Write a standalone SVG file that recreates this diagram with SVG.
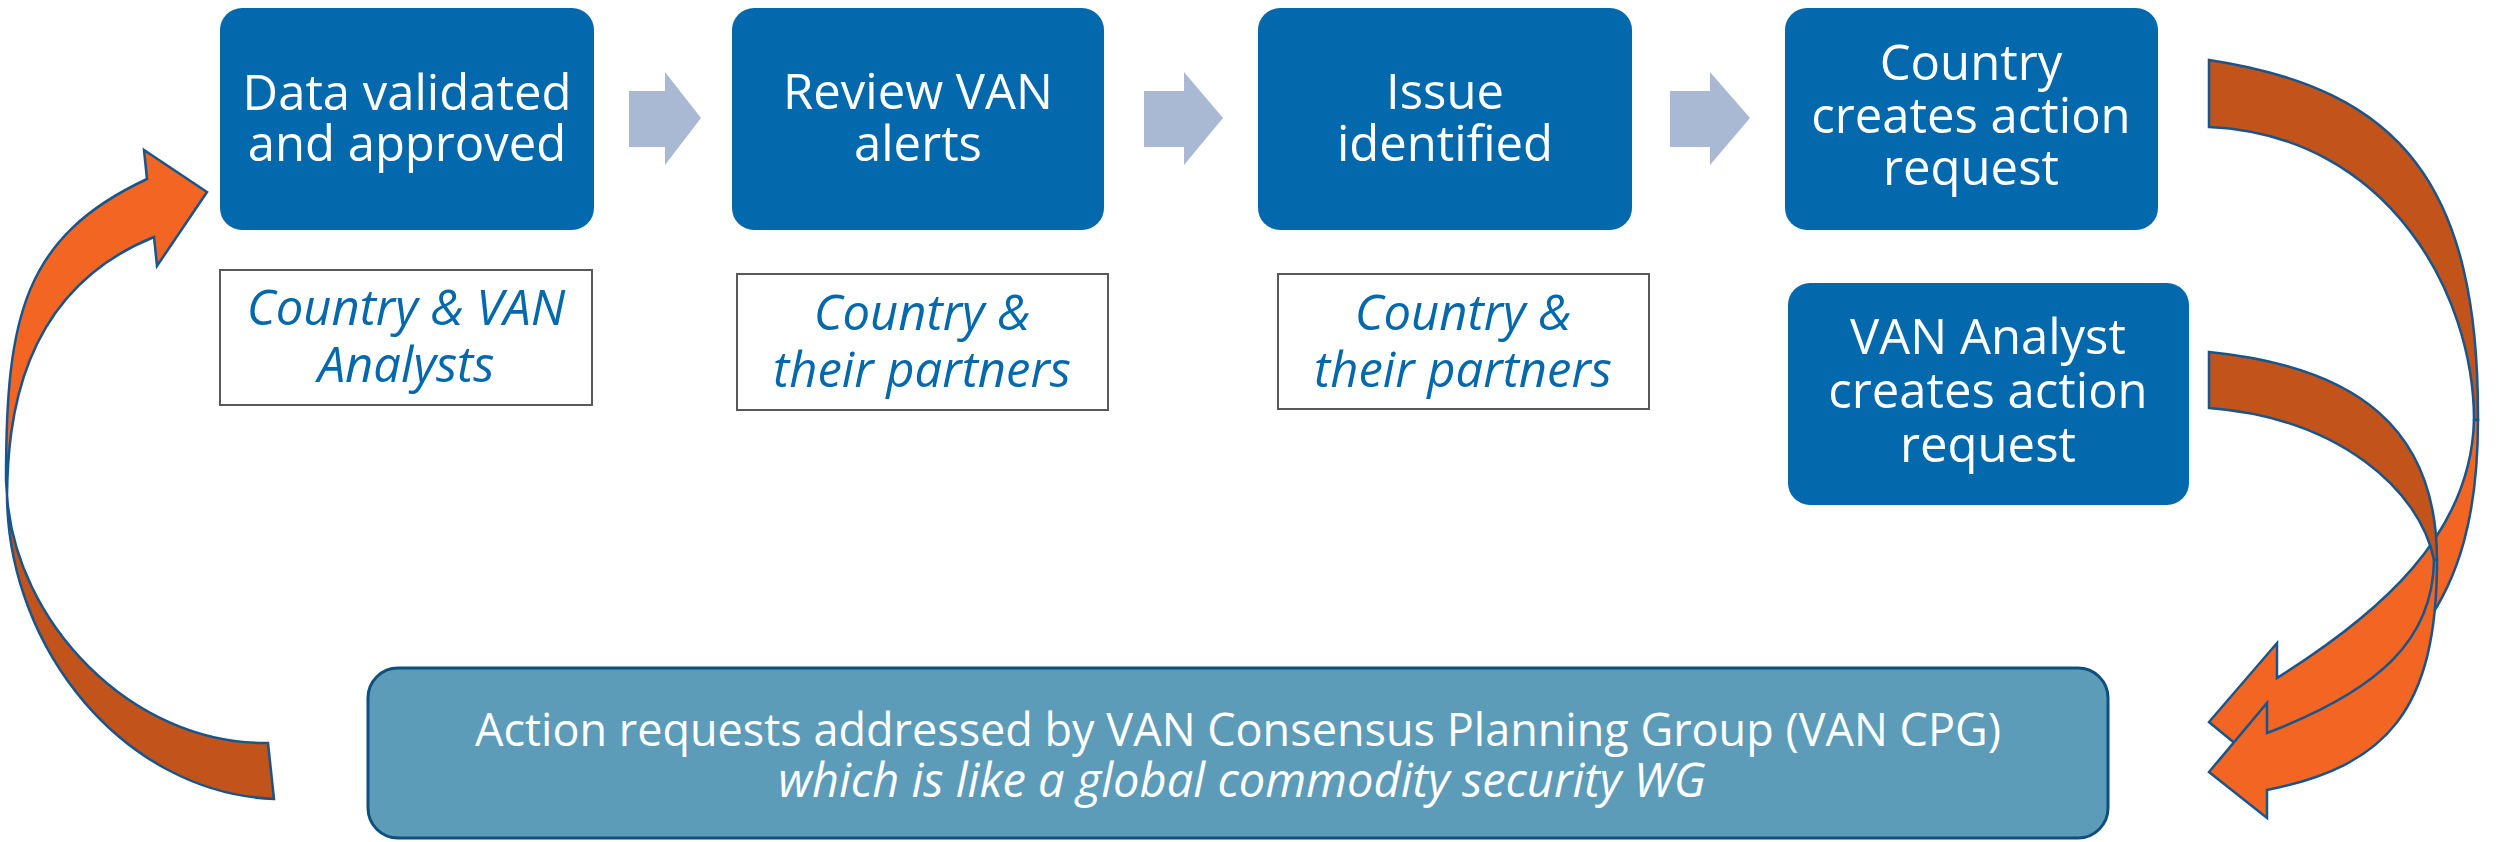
<svg xmlns="http://www.w3.org/2000/svg" width="2496" height="842" viewBox="0 0 2496 842">
<style>
.box{fill:#0468AC}
.t{font-family:"Open Sans","Noto Sans","DejaVu Sans",sans-serif;fill:#ffffff;font-size:49px;text-anchor:middle}
.sub{fill:#ffffff;stroke:#595959;stroke-width:2}
.st{font-family:"Open Sans","Noto Sans","DejaVu Sans",sans-serif;font-style:italic;fill:#0468AC;font-size:49px;text-anchor:middle}
.chev{fill:#A9B9D3}
.lt{fill:#F26522;stroke:#17558C;stroke-width:2.5;stroke-linejoin:miter}
.dk{fill:#C1531B;stroke:#17558C;stroke-width:2.5;stroke-linejoin:miter}
.bt{font-family:"Open Sans","Noto Sans","DejaVu Sans",sans-serif;fill:#ffffff;font-size:45px;text-anchor:middle}
.bi{font-family:"Open Sans","Noto Sans","DejaVu Sans",sans-serif;fill:#ffffff;font-size:47px;font-style:italic;text-anchor:middle}
</style>
<rect width="2496" height="842" fill="#ffffff"/>
<g id="connectors">
  <polygon class="chev" points="629,91 665,91 665,72 701,118 665,165 665,147 629,147"/>
  <polygon class="chev" points="1144,91 1184,91 1184,72 1223,118 1184,165 1184,147 1144,147"/>
  <polygon class="chev" points="1670,91 1710,91 1710,72 1750,118 1710,165 1710,147 1670,147"/>
  <g id="loop-left">
    <path class="dk" d="M7,495 C8,650 125,793 274,799 L268,743 C130,745 15,620 7,495 Z"/>
    <path class="lt" d="M147,179 L144,150 L207,192 L157,266 L154,237 C18,292 8,424 7,495 L6,480 C6,317 23,237 147,179 Z"/>
  </g>
  <g id="loop-right-upper">
    <path class="dk" d="M2209,60 C2401,89 2479,185 2478,420 L2474,420 C2474,295 2389,135 2209,127 Z"/>
    <path class="lt" d="M2478,420 C2478,612 2400,673 2277,740 L2277,778 L2209,722 L2277,643 L2277,678 C2379,614 2471,535 2474,420 Z"/>
  </g>
  <g id="loop-right-lower">
    <path class="dk" d="M2209,352 C2359,367 2437,430 2437,560 L2434,560 C2420,490 2339,418 2209,408 Z"/>
    <path class="lt" d="M2437,560 C2437,710 2387,766 2267,790 L2267,818 L2209,772 L2267,703 L2267,733 C2379,690 2433,640 2434,560 Z"/>
  </g>
</g>
<g id="node-data-validated">
  <rect class="box" x="220" y="8" width="374" height="222" rx="22"/>
  <text class="t" x="407" y="110">Data validated</text>
  <text class="t" x="407" y="161">and approved</text>
</g>
<g id="node-review">
  <rect class="box" x="732" y="8" width="372" height="222" rx="22"/>
  <text class="t" x="918" y="109">Review VAN</text>
  <text class="t" x="918" y="161">alerts</text>
</g>
<g id="node-issue">
  <rect class="box" x="1258" y="8" width="374" height="222" rx="22"/>
  <text class="t" x="1445" y="109">Issue</text>
  <text class="t" x="1445" y="161">identified</text>
</g>
<g id="node-country-creates">
  <rect class="box" x="1785" y="8" width="373" height="222" rx="22"/>
  <text class="t" x="1971" y="80">Country</text>
  <text class="t" x="1971" y="133">creates action</text>
  <text class="t" x="1971" y="185">request</text>
</g>
<g id="node-van-analyst-creates">
  <rect class="box" x="1788" y="283" width="401" height="222" rx="22"/>
  <text class="t" x="1988" y="354">VAN Analyst</text>
  <text class="t" x="1988" y="408">creates action</text>
  <text class="t" x="1988" y="462">request</text>
</g>
<g id="label-country-van-analysts">
  <rect class="sub" x="220" y="270" width="372" height="135"/>
  <text class="st" x="406" y="325">Country &amp; VAN</text>
  <text class="st" x="406" y="382">Analysts</text>
</g>
<g id="label-partners-1">
  <rect class="sub" x="737" y="274" width="371" height="136"/>
  <text class="st" x="922" y="330">Country &amp;</text>
  <text class="st" x="922" y="387">their partners</text>
</g>
<g id="label-partners-2">
  <rect class="sub" x="1278" y="274" width="371" height="135"/>
  <text class="st" x="1463" y="330">Country &amp;</text>
  <text class="st" x="1463" y="387">their partners</text>
</g>
<g id="node-cpg">
  <rect x="368" y="668" width="1740" height="170" rx="30" fill="#5D9CB9" stroke="#0E4F7F" stroke-width="3"/>
  <text class="bt" x="1238" y="746">Action requests addressed by VAN Consensus Planning Group (VAN CPG)</text>
  <text class="bi" x="1242" y="797">which is like a global commodity security WG</text>
</g>
</svg>
